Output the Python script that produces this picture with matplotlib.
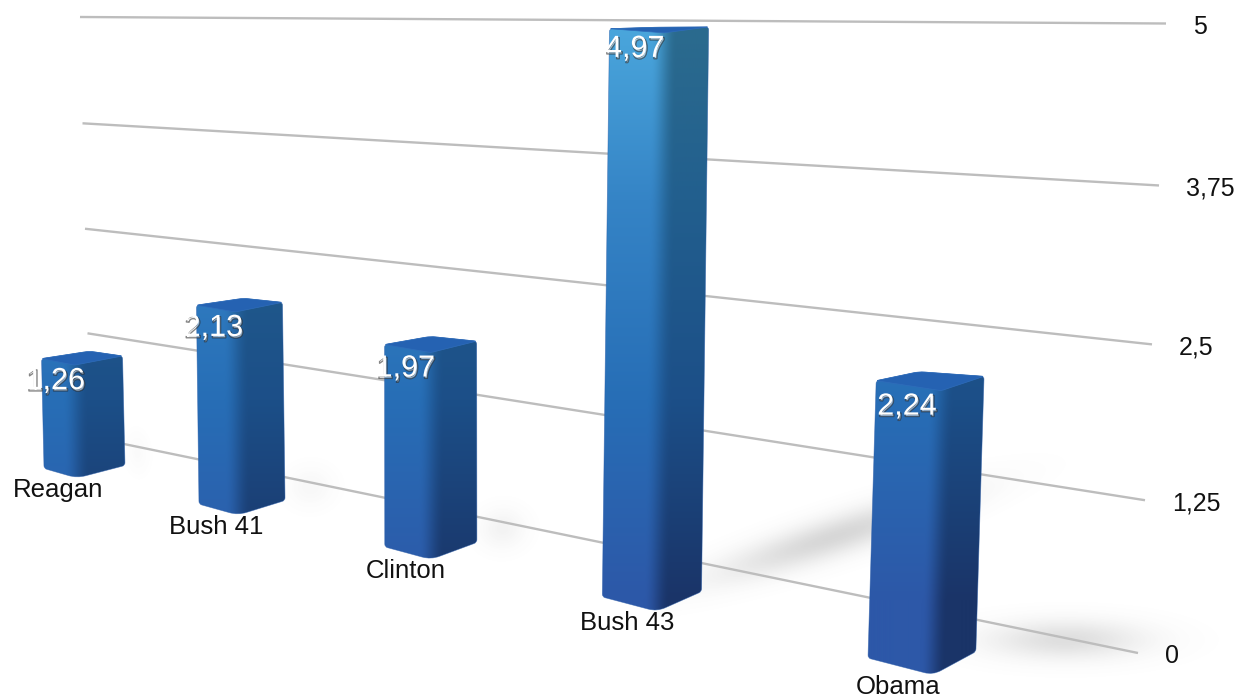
"""Perspective bar chart with soft shading, drawn on a full-figure pixel axes."""

import numpy as np
import matplotlib
matplotlib.use("Agg")
import matplotlib.pyplot as plt
import matplotlib.patheffects as pe
from matplotlib.path import Path
from matplotlib.patches import PathPatch

plt.rcParams["font.family"] = ["Liberation Sans", "DejaVu Sans"]

# data
presidents = ["Reagan", "Bush 41", "Clinton", "Bush 43", "Obama"]
values = [1.26, 2.13, 1.97, 4.97, 2.24]
tick_values = [0, 1.25, 2.5, 3.75, 5]
tick_labels = ["0", "1,25", "2,5", "3,75", "5"]

# perspective layout: floor position of each category, pixels per value unit
floor_x = [77, 238, 431, 657, 933]
depth_scale = [88, 94.4, 104, 116, 126]

# shadow styling per category
shadow_len = [10, 12, 13, 28, 40]
shadow_alpha = [0.03, 0.05, 0.08, 0.27, 0.22]
shadow_angle = [-5, -5, -5, -18, 0]

LEFT_STOPS = ["#4aa6dc", "#3584c6", "#276eb6", "#2d58a8"]
RIGHT_STOPS = ["#2b6b8e", "#225f8e", "#1c4f88", "#1a3468"]
STOP_Y = [30, 200, 400, 600]


def hex_rgb(c):
    return [int(c[i:i + 2], 16) / 255 for i in (1, 3, 5)]


def ramp(stops, y):
    rgb = np.array([hex_rgb(c) for c in stops])
    return np.stack([np.interp(y, STOP_Y, rgb[:, k]) for k in range(3)], axis=-1)


def grid_point(v, side):
    # side 0 = far end of the gridline, 1 = near end
    if side == 0:
        return 90 - 2.0 * v, 437 - 82.6 * v - 0.28 * v ** 2
    return 1138 + 5.6 * v, 653 - 121 * v - 0.98 * v ** 2


def rounded(points, radii):
    verts, codes = [], []
    n = len(points)
    for i in range(n):
        p = np.array(points[i], float)
        a = np.array(points[i - 1], float)
        b = np.array(points[(i + 1) % n], float)
        r = radii[i]
        p1 = p + (a - p) / np.linalg.norm(a - p) * r
        p2 = p + (b - p) / np.linalg.norm(b - p) * r
        verts.append(p1)
        codes.append(Path.MOVETO if i == 0 else Path.LINETO)
        verts.extend([p, p2])
        codes.extend([Path.CURVE3, Path.CURVE3])
    verts.append(verts[0])
    codes.append(Path.CLOSEPOLY)
    return Path(verts, codes)


def draw_shadow(ax, x0, y0, value, length, peak, angle_deg):
    angle = np.radians(angle_deg)
    half = length * value
    cx, cy = x0 + half * np.cos(angle), y0 + half * np.sin(angle)
    xs = np.arange(x0 - 50, x0 + 3 * half + 30)
    ys = np.arange(y0 - 1.5 * half - 50, y0 + 60)
    X, Y = np.meshgrid(xs, ys)
    d1 = (X - cx) * np.cos(angle) + (Y - cy) * np.sin(angle)
    d2 = -(X - cx) * np.sin(angle) + (Y - cy) * np.cos(angle)
    alpha = np.exp(-(d1 / (0.85 * half)) ** 2 - (d2 / 19) ** 2) * peak
    img = np.zeros(X.shape + (4,))
    img[..., :3] = 0.42
    img[..., 3] = alpha
    ax.imshow(img, extent=[xs[0], xs[-1], ys[-1], ys[0]], aspect="auto",
              interpolation="bilinear", zorder=1)


def draw_bar(ax, x, scale, value):
    h = value * scale
    lean = (x - 450) * 6e-5
    # footprint offsets from the front corner
    lx, ly = -33 - 0.0374 * (x - 77), -7.5 - 0.0085 * (x - 77)
    rx, ry = 48 - 0.006 * (x - 77), -10.5 - 0.0125 * (x - 77)
    flat = 1 - 0.00115 * h

    bot = np.array([x, 458.3 + 0.23 * x])
    top = bot + [h * lean, -h]
    tl = top + [lx, ly * flat]
    tr = top + [rx, ry * flat]
    back = top + [lx + rx, (ly + ry) * 0.95 * flat ** 1.5]
    bl = bot + [lx, ly]
    br = bot + [rx, ry]

    outline = rounded([tl, back, tr, br, bot + [0, 2], bl], [3, 6, 3, 3, 9, 3])

    xs = np.arange(bl[0] - 6, tr[0] + 8)
    ys = np.arange(back[1] - 4, bot[1] + 6)
    X, Y = np.meshgrid(xs, ys)
    crease = bot[0] + (bot[1] - Y) * lean
    t = np.clip((X - crease + 13) / 26, 0, 1)
    t = t * t * (3 - 2 * t)
    img = ramp(LEFT_STOPS, Y) * (1 - t[..., None]) + ramp(RIGHT_STOPS, Y) * t[..., None]
    im = ax.imshow(img, extent=[xs[0], xs[-1], ys[-1], ys[0]], aspect="auto",
                   interpolation="bilinear", zorder=3)
    clip = PathPatch(outline, transform=ax.transData, fc="none", ec="none")
    ax.add_patch(clip)
    im.set_clip_path(clip)

    # soften the clipped edge
    ax.add_patch(PathPatch(outline, fc="none", ec="#2a5ca8", lw=0.5, alpha=0.6, zorder=3.1))
    lid = rounded([tl, back, tr, top], [2, 5, 2, 2])
    ax.add_patch(PathPatch(lid, fc="#2562b2", ec="#2f6dbb", lw=0.5, zorder=3.2))
    return top, bot


fig = plt.figure(figsize=(12.49, 6.97), dpi=100, facecolor="white")
ax = fig.add_axes([0, 0, 1, 1])
ax.set_axis_off()

for x, v, ln, a, ang in zip(floor_x, values, shadow_len, shadow_alpha, shadow_angle):
    bx = x + 48 - 0.006 * (x - 77)
    by = 458.3 + 0.23 * x - 22 - 0.0125 * (x - 77)
    draw_shadow(ax, bx, by, v, ln, a, ang)

for v, lab in zip(tick_values, tick_labels):
    x0, y0 = grid_point(v, 0)
    x1, y1 = grid_point(v, 1)
    ax.plot([x0, x1], [y0, y1], color="#bdbdbd", lw=1.7, zorder=2, solid_capstyle="butt")
    ax.text(x1 + 27, y1 + 3, lab, fontsize=18, color="#111111", ha="left", va="center")

for x, s, v, name in zip(floor_x, depth_scale, values, presidents):
    top, bot = draw_bar(ax, x, s, v)
    ax.text(top[0] - 18 - 0.0175 * x, top[1] + 16, f"{v:.2f}".replace(".", ","),
            fontsize=22, color="white", ha="center", va="center", zorder=6,
            path_effects=[
                pe.Stroke(linewidth=1.0, foreground="#222222", alpha=0.55, offset=(0.8, -1.3)),
                pe.Normal(),
            ])
    ax.text(bot[0] - 17 - 0.019 * x, bot[1] + 14, name, fontsize=18.5, color="#111111",
            ha="center", va="center", zorder=6)

ax.set_xlim(0, 1249)
ax.set_ylim(697, 0)
fig.savefig("out.png", dpi=100)
